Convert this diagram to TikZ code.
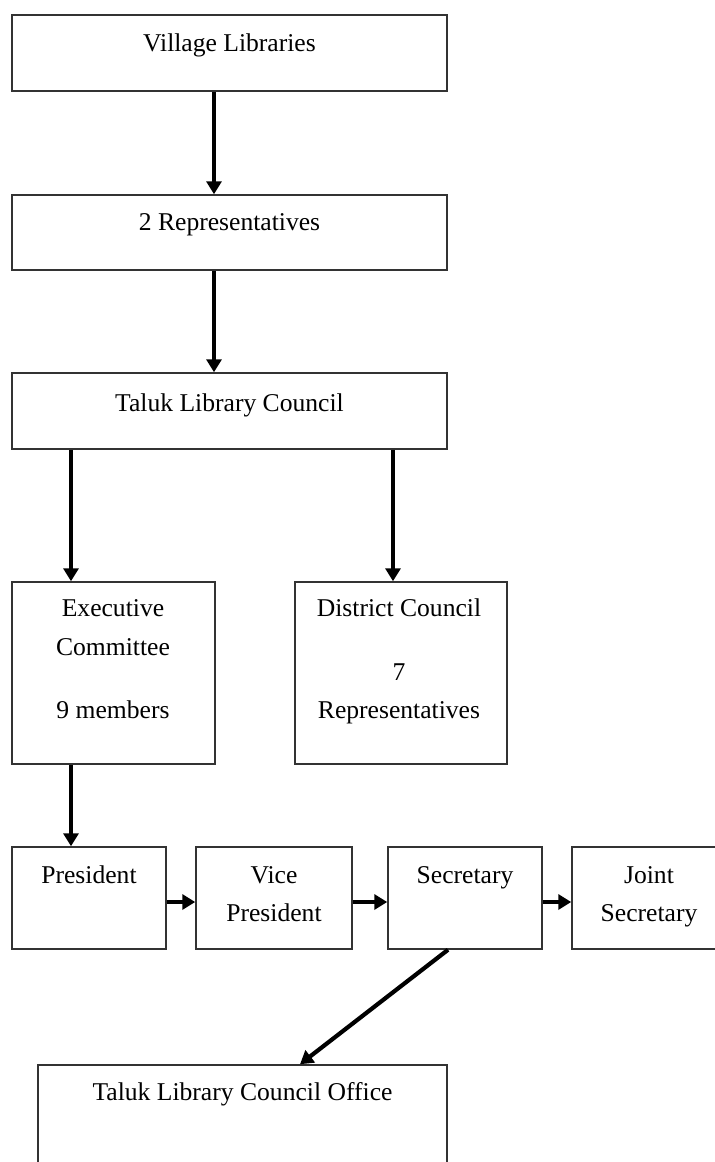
\documentclass[tikz,border=0pt]{standalone}
\usepackage{fontspec}
\setmainfont{Liberation Serif}
\usetikzlibrary{arrows.meta}
\begin{document}
\begin{tikzpicture}[x=0.5pt,y=-0.5pt,
  box/.style={draw=black!80, line width=0.75pt, inner sep=0pt},
  lbl/.style={anchor=base, inner sep=0pt, font=\fontsize{12.8}{15}\selectfont},
  link/.style={line width=2.1pt, -{Triangle[length=6.5pt,width=7.5pt]}},
]
\useasboundingbox (0,0) rectangle (715,1162);
\clip (0,0) rectangle (715,1162);

% boxes
\node[box, minimum width=217.5pt, minimum height=38pt]   (vl)  at (229.5,53)    {};
\node[box, minimum width=217.5pt, minimum height=37.5pt] (rep) at (229.5,232.5) {};
\node[box, minimum width=217.5pt, minimum height=38pt]   (tlc) at (229.5,411)   {};
\node[box, minimum width=101.5pt, minimum height=91pt]   (ec)  at (113.5,673)   {};
\node[box, minimum width=106pt,   minimum height=91pt]   (dc)  at (401,673)     {};
\node[box, minimum width=77pt,    minimum height=51pt]   (pr)  at (89,898)      {};
\node[box, minimum width=78pt,    minimum height=51pt]   (vp)  at (274,898)     {};
\node[box, minimum width=77pt,    minimum height=51pt]   (sec) at (465,898)     {};
\node[box, minimum width=77pt,    minimum height=51pt]   (js)  at (649,898)     {};
\node[box, minimum width=204.5pt, minimum height=67.5pt] (off) at (242.5,1132.5) {};

% texts
\node[lbl] (vlt)  at (229.5,51)  {Village Libraries};
\node[lbl] (rept) at (229.5,230) {2 Representatives};
\node[lbl] (tlct) at (229.5,411) {Taluk Library Council};
\node[lbl] (ect1) at (113,616)   {Executive};
\node[lbl] (ect2) at (113,655)   {Committee};
\node[lbl] (ect3) at (113,718.5) {9 members};
\node[lbl] (dct1) at (399,616)   {District Council};
\node[lbl] (dct2) at (399,680)   {7};
\node[lbl] (dct3) at (399,718.5) {Representatives};
\node[lbl] (prt)  at (89,883)    {President};
\node[lbl] (vpt1) at (274,883)   {Vice};
\node[lbl] (vpt2) at (274,921)   {President};
\node[lbl] (sect) at (465,883)   {Secretary};
\node[lbl] (jst1) at (649,883)   {Joint};
\node[lbl] (jst2) at (649,921)   {Secretary};
\node[lbl] (offt) at (242.5,1100) {Taluk Library Council Office};

% connectors
\draw[link] ([xshift=-7.75pt]vl.south)  -- ([xshift=-7.75pt]rep.north);
\draw[link] ([xshift=-7.75pt]rep.south) -- ([xshift=-7.75pt]tlc.north);
\draw[link] ([xshift=-79.25pt]tlc.south) -- ([xshift=-21.25pt]ec.north);
\draw[link] ([xshift=81.75pt]tlc.south)  -- ([xshift=-4pt]dc.north);
\draw[link] ([xshift=-21.25pt]ec.south)  -- ([xshift=-9pt]pr.north);
\draw[link] ([yshift=-2pt]pr.east)  -- ([yshift=-2pt]vp.west);
\draw[link] ([yshift=-2pt]vp.east)  -- ([yshift=-2pt]sec.west);
\draw[link] ([yshift=-2pt]sec.east) -- ([yshift=-2pt]js.west);
\draw[link] ([xshift=-8.5pt]sec.south) -- ([xshift=28.75pt]off.north);
\end{tikzpicture}
\end{document}
